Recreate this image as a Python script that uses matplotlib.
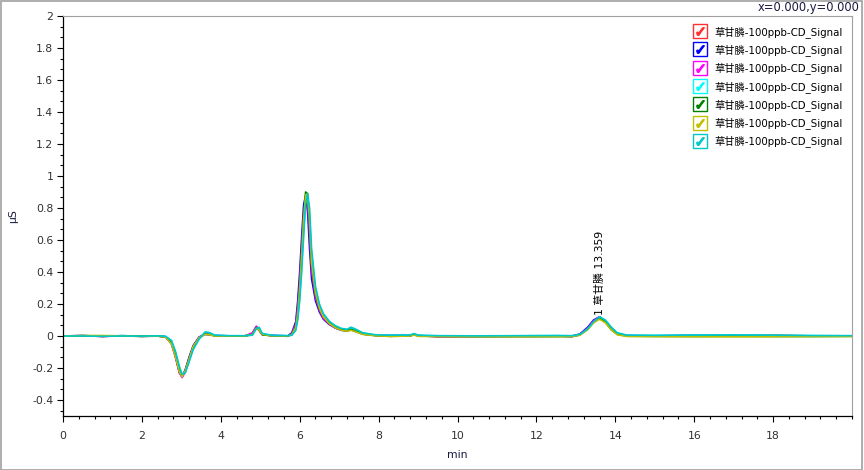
import matplotlib
matplotlib.use('Agg')
import matplotlib.pyplot as plt
from matplotlib.lines import Line2D
from matplotlib.legend_handler import HandlerTuple
from matplotlib.patches import Rectangle
from matplotlib.ticker import MultipleLocator, FuncFormatter

plt.rcParams['font.family'] = ['DejaVu Sans', 'Noto Sans CJK SC']

# retention time grid (min)
t = [0.0, 0.5, 1.0, 1.5, 2.0, 2.4, 2.6, 2.75, 2.85, 2.95,
     3.02, 3.1, 3.2, 3.3, 3.45, 3.6, 3.7, 3.85, 4.2, 4.6,
     4.8, 4.9, 4.97, 5.05, 5.3, 5.7, 5.8, 5.9, 5.95, 6.0,
     6.05, 6.1, 6.15, 6.2, 6.25, 6.3, 6.4, 6.5, 6.6, 6.75,
     6.9, 7.05, 7.2, 7.3, 7.4, 7.6, 7.9, 8.3, 8.8, 8.9,
     9.0, 9.5, 10.5, 11.5, 12.5, 12.9, 13.1, 13.3, 13.45, 13.6,
     13.75, 13.9, 14.05, 14.3, 15.0, 16.0, 17.0, 18.0, 19.0, 20.0]

# signal (uS) for the 7 injections
red = [0.000, 0.002, -0.003, 0.001, -0.001, 0.000, -0.006, -0.045, -0.125, -0.225,
       -0.25, -0.215, -0.135, -0.065, -0.008, 0.012, 0.01, 0.002, 0.000, 0.000,
       0.012, 0.05, 0.035, 0.008, 0.002, 0.000, 0.012, 0.065, 0.16, 0.31,
       0.52, 0.74, 0.87, 0.86, 0.67, 0.43, 0.25, 0.165, 0.115, 0.078,
       0.052, 0.038, 0.032, 0.04, 0.032, 0.014, 0.005, 0.002, 0.003, 0.01,
       0.003, -0.002, -0.001, 0.000, 0.001, -0.001, 0.008, 0.045, 0.088, 0.11,
       0.088, 0.042, 0.013, 0.002, 0.000, 0.001, 0.004, 0.007, 0.000, 0.000]
blue = [0.000, 0.003, -0.002, 0.002, -0.002, 0.001, -0.004, -0.05, -0.13, -0.23,
        -0.255, -0.21, -0.13, -0.06, -0.006, 0.01, 0.008, 0.003, 0.001, 0.000,
        0.015, 0.06, 0.04, 0.01, 0.004, 0.001, 0.02, 0.09, 0.22, 0.40,
        0.62, 0.82, 0.88, 0.78, 0.55, 0.36, 0.22, 0.15, 0.105, 0.072,
        0.05, 0.036, 0.032, 0.038, 0.03, 0.012, 0.004, 0.003, 0.002, 0.008,
        0.002, -0.002, -0.003, -0.003, -0.002, 0.000, 0.012, 0.055, 0.1, 0.12,
        0.088, 0.04, 0.012, 0.002, 0.001, 0.000, 0.002, 0.001, 0.000, 0.000]
magenta = [0.000, 0.001, -0.002, 0.000, -0.002, 0.000, -0.006, -0.045, -0.13, -0.23,
           -0.26, -0.225, -0.145, -0.072, -0.012, 0.015, 0.012, 0.002, 0.000, -0.001,
           0.02, 0.06, 0.04, 0.01, 0.002, -0.002, 0.015, 0.075, 0.18, 0.34,
           0.55, 0.76, 0.86, 0.84, 0.64, 0.41, 0.24, 0.16, 0.11, 0.076,
           0.052, 0.038, 0.034, 0.042, 0.034, 0.014, 0.005, 0.002, 0.003, 0.012,
           0.003, -0.006, -0.002, -0.001, 0.000, -0.004, 0.01, 0.05, 0.095, 0.12,
           0.092, 0.045, 0.014, 0.003, 0.001, 0.006, 0.002, 0.001, 0.000, 0.000]
cyan = [0.000, 0.002, -0.001, 0.002, 0.000, 0.000, -0.003, -0.03, -0.1, -0.2,
        -0.245, -0.225, -0.15, -0.08, -0.015, 0.022, 0.02, 0.004, 0.001, 0.001,
        0.006, 0.05, 0.05, 0.014, 0.003, 0.001, 0.006, 0.04, 0.11, 0.24,
        0.43, 0.66, 0.84, 0.88, 0.76, 0.5, 0.29, 0.19, 0.13, 0.088,
        0.06, 0.044, 0.038, 0.05, 0.04, 0.018, 0.007, 0.004, 0.005, 0.014,
        0.004, 0.001, 0.000, 0.001, 0.002, 0.001, 0.008, 0.04, 0.085, 0.115,
        0.095, 0.05, 0.018, 0.004, 0.003, 0.005, 0.006, 0.004, 0.002, 0.001]
green = [0.000, 0.001, -0.002, 0.001, -0.002, -0.001, -0.006, -0.04, -0.12, -0.22,
         -0.25, -0.22, -0.14, -0.07, -0.012, 0.012, 0.01, 0.001, -0.001, -0.001,
         0.01, 0.052, 0.038, 0.008, 0.001, -0.001, 0.01, 0.06, 0.15, 0.31,
         0.52, 0.75, 0.90, 0.89, 0.70, 0.45, 0.26, 0.17, 0.12, 0.08,
         0.055, 0.04, 0.034, 0.042, 0.032, 0.012, 0.003, -0.002, 0.001, 0.009,
         0.001, -0.003, -0.004, -0.003, -0.003, -0.004, 0.006, 0.045, 0.088, 0.112,
         0.086, 0.04, 0.01, -0.001, -0.002, -0.003, -0.002, -0.003, -0.003, -0.002]
olive = [0.000, 0.003, 0.003, 0.001, -0.003, 0.000, -0.007, -0.05, -0.13, -0.225,
         -0.255, -0.215, -0.14, -0.065, -0.01, 0.01, 0.008, 0.000, 0.000, 0.000,
         0.008, 0.048, 0.038, 0.01, 0.001, 0.000, 0.008, 0.055, 0.14, 0.29,
         0.50, 0.73, 0.88, 0.89, 0.72, 0.46, 0.27, 0.175, 0.12, 0.078,
         0.052, 0.036, 0.03, 0.036, 0.028, 0.01, 0.002, -0.003, 0.000, 0.006,
         -0.002, -0.004, -0.004, -0.005, -0.004, -0.003, 0.005, 0.04, 0.082, 0.105,
         0.082, 0.038, 0.008, -0.003, -0.004, -0.004, -0.005, -0.004, -0.003, -0.003]
teal = [0.000, 0.000, -0.002, 0.000, -0.001, 0.001, -0.002, -0.028, -0.095, -0.19,
        -0.24, -0.23, -0.16, -0.085, -0.02, 0.025, 0.022, 0.005, 0.002, 0.002,
        0.005, 0.045, 0.055, 0.016, 0.004, 0.002, 0.005, 0.035, 0.1, 0.22,
        0.40, 0.62, 0.82, 0.89, 0.80, 0.55, 0.31, 0.2, 0.14, 0.092,
        0.065, 0.048, 0.042, 0.055, 0.045, 0.02, 0.008, 0.005, 0.006, 0.015,
        0.005, 0.002, 0.001, 0.002, 0.003, 0.002, 0.01, 0.045, 0.09, 0.12,
        0.1, 0.055, 0.02, 0.005, 0.004, 0.006, 0.007, 0.005, 0.003, 0.002]

series = [red, blue, magenta, cyan, green, olive, teal]
colors = ['#ff3030', '#0000ff', '#ff00ff', '#00ffff', '#008000', '#c0c000', '#00c8c8']
label = '草甘膦-100ppb-CD_Signal'

peak_time = 13.6
peak_text = '1 草甘膦 13.359'

fig = plt.figure(figsize=(8.64, 4.70), dpi=100)
ax = fig.add_axes([63/864, 1-416/470, (852-63)/864, (416-16)/470])

for vals, c in zip(series, colors):
    ax.plot(t, vals, color=c, lw=1.2)

ax.set_xlim(0, 20)
ax.set_ylim(-0.5, 2)
ax.set_xticks([0, 2, 4, 6, 8, 10, 12, 14, 16, 18])
ax.xaxis.set_minor_locator(MultipleLocator(0.4))
ax.yaxis.set_major_locator(MultipleLocator(0.2))
ax.yaxis.set_minor_locator(MultipleLocator(0.2/3))
ax.yaxis.set_major_formatter(FuncFormatter(lambda v, p: f'{round(v, 2):g}' if abs(v) > 1e-9 else '0'))
ax.tick_params(which='major', length=4, width=0.8, labelsize=7.8, labelcolor='#303030', pad=3)
ax.tick_params(which='minor', length=2.5, width=0.8)
ax.tick_params(axis='x', which='major', pad=7)

for s in ['top', 'right']:
    ax.spines[s].set_color('#a0a0a0')
ax.spines['left'].set_linewidth(0.9)
ax.spines['bottom'].set_linewidth(0.9)

ax.set_xlabel('min', fontsize=7.8, color='#1a1a40', labelpad=6)
ax.set_ylabel('μS', fontsize=7.8, color='#1a1a40', labelpad=10)

ax.text(peak_time, 0.13, peak_text, rotation=90, ha='center', va='bottom', fontsize=7.8)

handles = []
for c in colors:
    box = Line2D([], [], marker='s', ls='none', markersize=9.5, markerfacecolor='white',
                 markeredgecolor=c, markeredgewidth=1.0)
    chk = Line2D([], [], marker='$\\checkmark$', ls='none', markersize=5.5, color=c)
    handles.append((box, chk))
ax.legend(handles, [label] * len(colors), handler_map={tuple: HandlerTuple(ndivide=1)},
          loc='upper right', frameon=False, fontsize=7.4, borderaxespad=0.75,
          handlelength=1.2, handletextpad=0.75, labelspacing=0.62, borderpad=0.2)

fig.text(860/864, 1-8/470, 'x=0.000,y=0.000', ha='right', va='center', fontsize=8.3, color='#1a1a40')
fig.patches.append(Rectangle((0.001, 0.001), 0.997, 0.997, transform=fig.transFigure,
                             fill=False, edgecolor='#a0a0a0', lw=1.2))

fig.savefig('out.png', dpi=100)
